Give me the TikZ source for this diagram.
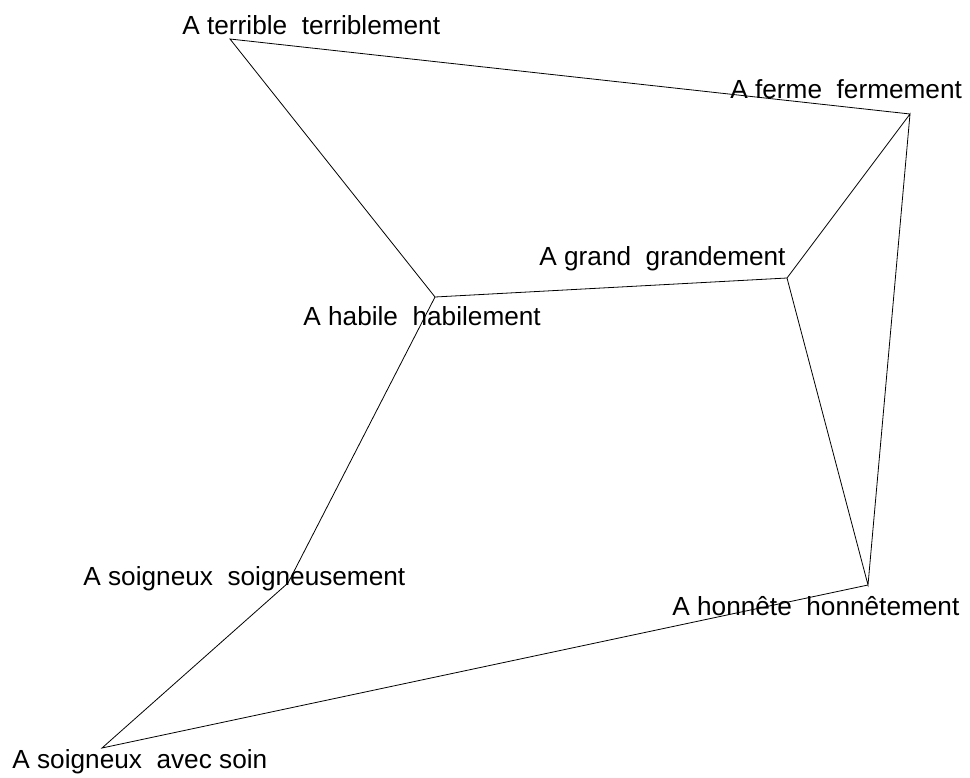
\documentclass[tikz,border=0pt]{standalone}
\usepackage{fontspec}
\setmainfont{Liberation Sans}

\begin{document}
\begin{tikzpicture}[x=1bp, y=-1bp, inner sep=0pt, line width=0.8bp,
    lbl/.style={anchor=base west, font=\fontsize{26.3}{30}\selectfont}]
  \useasboundingbox (0,0) rectangle (970,778);

  \coordinate (Terrible) at (230,39);
  \coordinate (Ferme) at (910,114);
  \coordinate (Grand) at (787,278);
  \coordinate (Habile) at (435,297);
  \coordinate (Soigneux) at (288,583);
  \coordinate (Honnete) at (868,585);
  \coordinate (Soin) at (102,748);

  \node[lbl] (L1) at (182,35) {A terrible\ \ terriblement};
  \node[lbl] (L2) at (730,98) {A ferme\ \ fermement};
  \node[lbl] (L3) at (539,265) {A grand\ \ grandement};
  \node[lbl] (L4) at (303,325) {A habile\ \ habilement};
  \node[lbl] (L5) at (83,585) {A soigneux\ \ soigneusement};
  \node[lbl] (L6) at (672,615) {A honnête\ \ honnêtement};
  \node[lbl] (L7) at (12,768) {A soigneux\ \ avec soin};

  \draw (Ferme) -- (Terrible) -- (Habile) -- (Grand) -- (Ferme) -- (Honnete) -- (Grand);
  \draw (Habile) -- (Soigneux) -- (Soin) -- (Honnete);
\end{tikzpicture}
\end{document}
